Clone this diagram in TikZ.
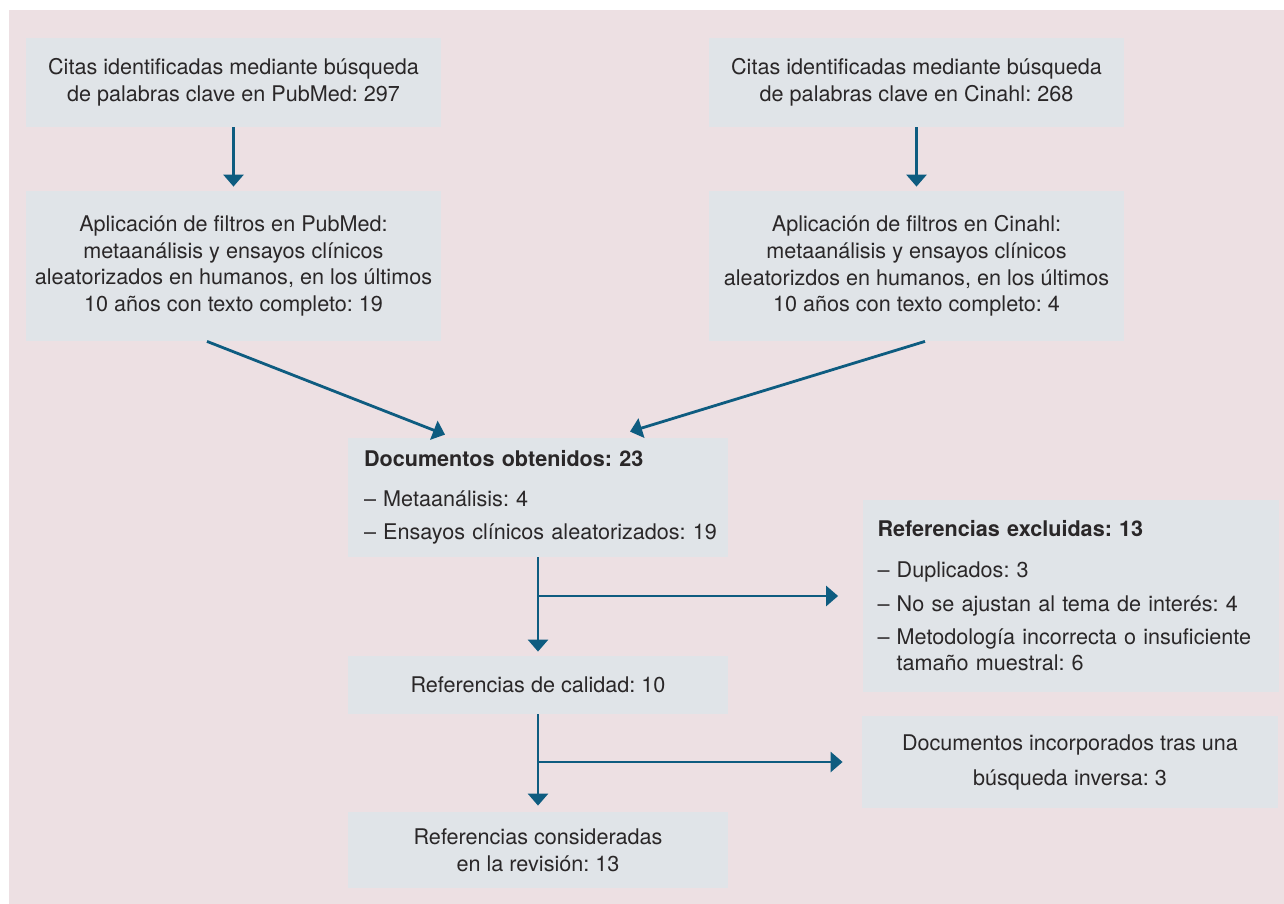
\documentclass[tikz,border=0pt]{standalone}
\usepackage{fontspec}
\setmainfont{TeX Gyre Heros}
\frenchspacing
\definecolor{bgpink}{HTML}{EDE0E3}
\definecolor{boxgray}{HTML}{E0E4E8}
\definecolor{flowblue}{HTML}{0E5C80}
\definecolor{txtgray}{HTML}{2A2728}
\tikzset{%
    box/.style={fill=boxgray, text=txtgray, inner sep=0pt, align=center, font=\fontsize{10.8}{13.3}\selectfont},
    flow/.style={flowblue, line width=1.4pt, -{Triangle[width=10pt, length=6pt]}}
}
\usetikzlibrary{arrows.meta, positioning}

\begin{document}
\begin{tikzpicture}[x=0.5pt, y=-0.5pt]
                        \useasboundingbox (0,0) rectangle (1284,904);
                        \fill[bgpink] (9,10) rectangle (1284,904);
                        % search boxes
                        \node[box, minimum width=207.5pt, minimum height=44.5pt] (pubA) at (233.5,82.5) {Citas identificadas mediante búsqueda\\de palabras clave en PubMed: 297};
                        \node[box, minimum width=207.5pt, minimum height=44.5pt] (cinA) at (916.5,82.5) {Citas identificadas mediante búsqueda\\de palabras clave en Cinahl: 268};
                        \node[box, minimum width=207.5pt, minimum height=75pt] (pubB) at (233.5,266) {Aplicación de filtros en PubMed:\\metaanálisis y ensayos clínicos\\aleatorizados en humanos, en los últimos\\10 años con texto completo: 19};
                        \node[box, minimum width=207.5pt, minimum height=75pt] (cinB) at (916.5,266) {Aplicación de filtros en Cinahl:\\metaanálisis y ensayos clínicos\\aleatorizdos en humanos, en los últimos\\10 años con texto completo: 4};
                        % results
                        \node[box, minimum width=190pt, minimum height=59.5pt, align=left, text width=174pt] (docs) at (538,497.5) {\textbf{Documentos obtenidos: 23}\\[6.5pt]– Metaanálisis: 4\\[3.2pt]\mbox{– Ensayos clínicos aleatorizados: 19}};
                        \node[box, minimum width=208pt, minimum height=96pt, align=left, text width=193pt] (excl) at (1070.5,596) {\textbf{Referencias excluidas: 13}\\[7pt]– Duplicados: 3\\[3.7pt]– No se ajustan al tema de interés: 4\\[3.2pt]\mbox{– Metodología incorrecta o insuficiente}\\\phantom{– }tamaño muestral: 6};
                        \node[box, minimum width=190pt, minimum height=29pt] (qual) at (538,685) {Referencias de calidad: 10};
                        \node[box, minimum width=208pt, minimum height=46pt] (inc) at (1070,762) {Documentos incorporados tras una\\[4.2pt]búsqueda inversa: 3};
                        \node[box, minimum width=190pt, minimum height=38pt] (cons) at (538,850) {Referencias consideradas\\en la revisión: 13};
                        % arrows
                        \draw[flow, shorten >=2pt] (pubA) -- (pubB);
                        \draw[flow, shorten >=2pt] (cinA) -- (cinB);
                        \draw[flow] ([xshift=-13.25pt]pubB.south) -- ([xshift=-46.5pt, yshift=1.5pt]docs.north);
                        \draw[flow] ([xshift=4.25pt]cinB.south) -- ([xshift=46pt, yshift=3pt]docs.north);
                        \draw[flow, shorten >=2pt] (docs) -- (qual);
                        \draw[flow, shorten >=12pt] (docs.south |- excl.west) -- (excl.west);
                        \draw[flow, shorten >=3pt] (qual) -- (cons);
                        \draw[flow, shorten >=9.5pt] (qual.south |- inc.west) -- (inc.west);
                    \end{tikzpicture}
\end{document}
